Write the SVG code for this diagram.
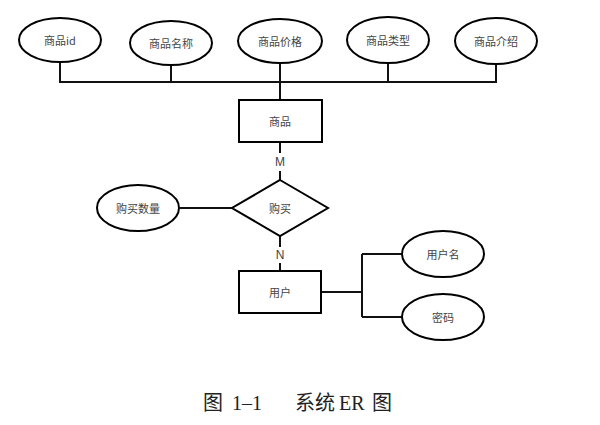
<svg xmlns="http://www.w3.org/2000/svg" width="600" height="425" viewBox="0 0 600 425">
<style>
.shape{fill:#fff;stroke:#000;stroke-width:2}
.line{fill:none;stroke:#111;stroke-width:2}
.lbl{font-family:"Noto Sans CJK SC","Liberation Sans",sans-serif;font-size:11px;fill:#444;text-anchor:middle;dominant-baseline:central}
.card{font-family:"Liberation Sans",sans-serif;font-size:12px;fill:#444;text-anchor:middle;dominant-baseline:central}
.cap{font-family:"Liberation Serif","Noto Sans CJK SC",serif;font-size:20px;fill:#222}
</style>
<rect width="600" height="425" fill="#fff"/>
<g id="connectors">
<path class="line" d="M60 62V82H497M171 65V82M280 63V100M388 63V82M496 64V82"/>
<path class="line" d="M280 142V153M280 171V180"/>
<path class="line" d="M280 236V247M280 263V271"/>
<path class="line" d="M180 208H232"/>
<path class="line" d="M321 292H362M362 254V317M362 254H402M362 317H402"/>
<text class="card" x="280" y="162">M</text>
<text class="card" x="280" y="255">N</text>
</g>
<g id="attr-id"><ellipse class="shape" cx="60" cy="40" rx="41" ry="22"/><text class="lbl" x="60" y="40">商品id</text></g>
<g id="attr-name"><ellipse class="shape" cx="171" cy="43" rx="41" ry="22"/><text class="lbl" x="171" y="43">商品名称</text></g>
<g id="attr-price"><ellipse class="shape" cx="280" cy="41" rx="42" ry="22"/><text class="lbl" x="280" y="41">商品价格</text></g>
<g id="attr-type"><ellipse class="shape" cx="388" cy="40" rx="41" ry="23"/><text class="lbl" x="388" y="40">商品类型</text></g>
<g id="attr-desc"><ellipse class="shape" cx="496" cy="41" rx="41" ry="23"/><text class="lbl" x="496" y="41">商品介绍</text></g>
<g id="entity-product"><rect class="shape" x="239" y="100" width="83" height="42"/><text class="lbl" x="280" y="121">商品</text></g>
<g id="rel-buy"><polygon class="shape" points="280,180 328,208 280,236 232,208"/><text class="lbl" x="280" y="208">购买</text></g>
<g id="attr-qty"><ellipse class="shape" cx="138" cy="208" rx="41" ry="23"/><text class="lbl" x="138" y="208">购买数量</text></g>
<g id="entity-user"><rect class="shape" x="239" y="271" width="82" height="42"/><text class="lbl" x="280" y="292">用户</text></g>
<g id="attr-username"><ellipse class="shape" cx="443" cy="254" rx="41" ry="23"/><text class="lbl" x="443" y="254">用户名</text></g>
<g id="attr-password"><ellipse class="shape" cx="443" cy="317" rx="41" ry="23"/><text class="lbl" x="443" y="317">密码</text></g>
<g id="caption"><text class="cap" y="410"><tspan x="203">图</tspan><tspan x="232">1–1</tspan><tspan x="295">系统</tspan><tspan x="339">ER</tspan><tspan x="372">图</tspan></text></g>
</svg>
